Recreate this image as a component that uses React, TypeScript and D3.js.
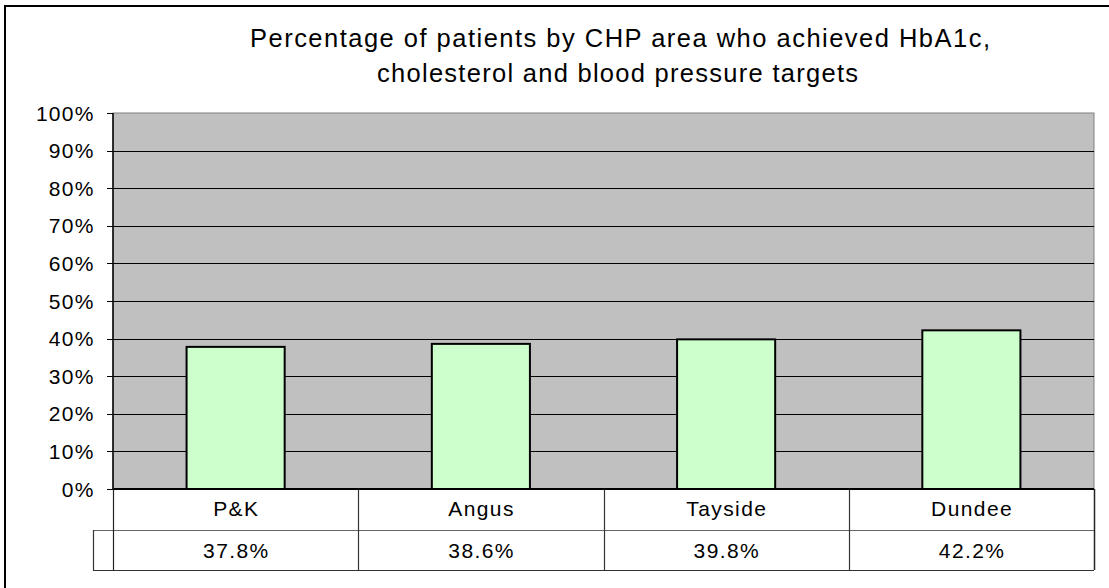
import React from "react";
import * as d3 from "d3";

const categories = ["P&K", "Angus", "Tayside", "Dundee"];
const values = [37.8, 38.6, 39.8, 42.2];
const valueLabels = ["37.8%", "38.6%", "39.8%", "42.2%"];
const yTicks = [0, 10, 20, 30, 40, 50, 60, 70, 80, 90, 100];
const titleLines = [
  "Percentage of patients by CHP area who achieved HbA1c,",
  "cholesterol and blood pressure targets",
];

const W = 1109;
const H = 588;
const plot = { left: 113, right: 1094, top: 113, bottom: 489 };
const rowH = 41;
const FONT = "'Liberation Sans', Arial, Helvetica, sans-serif";

export default function App() {
  const y = d3.scaleLinear().domain([0, 100]).range([plot.bottom, plot.top]);
  const cols = d3.scaleBand<string>().domain(categories).range([plot.left, plot.right]).padding(0);
  const bars = d3
    .scaleBand<string>()
    .domain(categories)
    .range([plot.left, plot.right])
    .paddingInner(0.6)
    .paddingOuter(0.3);

  const row1Top = plot.bottom;
  const row2Top = plot.bottom + rowH;
  const row2Bottom = row2Top + 40;
  const keyLeft = 93;

  return (
    <svg
      width={W}
      height={H}
      style={{ position: "absolute", left: 0, top: 0, fontFamily: FONT }}
    >
      <rect x={0} y={0} width={W} height={H} fill="#fff" />
      <rect x={5} y={6} width={W + 10} height={H + 10} fill="none" stroke="#000" strokeWidth={2} />

      {/* title */}
      <text fontSize={25.5} fill="#000">
        <tspan x={250} y={47} textLength={740} lengthAdjust="spacing">{titleLines[0]}</tspan>
      </text>
      <text fontSize={25.5} fill="#000">
        <tspan x={377} y={82} textLength={481} lengthAdjust="spacing">{titleLines[1]}</tspan>
      </text>

      {/* plot area */}
      <rect
        x={plot.left}
        y={plot.top}
        width={plot.right - plot.left}
        height={plot.bottom - plot.top}
        fill="#C0C0C0"
        stroke="#808080"
        strokeWidth={1}
      />
      {yTicks.filter((t) => t > 0 && t < 100).map((t) => (
        <line
          key={"g" + t}
          x1={plot.left}
          x2={plot.right}
          y1={Math.round(y(t)) + 0.5}
          y2={Math.round(y(t)) + 0.5}
          stroke="#000"
          strokeWidth={1}
        />
      ))}

      {/* bars */}
      {categories.map((c, i) => (
        <rect
          key={"b" + c}
          x={bars(c)}
          y={y(values[i])}
          width={bars.bandwidth()}
          height={plot.bottom - y(values[i])}
          fill="#CCFFCC"
          stroke="#000"
          strokeWidth={2}
        />
      ))}

      {/* y axis */}
      <line x1={plot.left} x2={plot.left} y1={plot.top} y2={plot.bottom} stroke="#000" strokeWidth={1.5} />
      {yTicks.map((t) => (
        <g key={"t" + t}>
          <line
            x1={plot.left - 6}
            x2={plot.left}
            y1={Math.round(y(t)) + 0.5}
            y2={Math.round(y(t)) + 0.5}
            stroke="#000"
          />
          <text
            x={94.5}
            y={y(t) + 7.5}
            textAnchor="end"
            fontSize={21}
            letterSpacing={1.2}
            fill="#000"
          >
            {t}%
          </text>
        </g>
      ))}

      {/* data table */}
      <rect x={plot.left} y={row1Top} width={plot.right - plot.left} height={rowH} fill="#fff" stroke="none" />
      <rect x={keyLeft} y={row2Top} width={plot.right - keyLeft} height={row2Bottom - row2Top} fill="#fff" stroke="none" />
      <line x1={keyLeft} x2={plot.right} y1={row2Top + 0.5} y2={row2Top + 0.5} stroke="#666" strokeWidth={1.2} />
      <line x1={keyLeft} x2={plot.right} y1={row2Bottom + 0.5} y2={row2Bottom + 0.5} stroke="#333" strokeWidth={1.2} />
      <line x1={keyLeft + 0.5} x2={keyLeft + 0.5} y1={row2Top} y2={row2Bottom} stroke="#333" strokeWidth={1.2} />
      <line x1={plot.left + 0.5} x2={plot.left + 0.5} y1={row1Top} y2={row2Bottom} stroke="#222" strokeWidth={1.2} />
      <line x1={plot.right + 0.5} x2={plot.right + 0.5} y1={row1Top} y2={row2Bottom} stroke="#222" strokeWidth={1.5} />
      {categories.slice(1).map((c) => (
        <line
          key={"s" + c}
          x1={Math.round(cols(c)!) + 0.5}
          x2={Math.round(cols(c)!) + 0.5}
          y1={row1Top}
          y2={row2Bottom}
          stroke="#333"
          strokeWidth={1.2}
        />
      ))}
      <line x1={plot.left} x2={plot.right} y1={plot.bottom} y2={plot.bottom} stroke="#000" strokeWidth={2} />
      {categories.map((c, i) => (
        <g key={"l" + c}>
          <text
            x={cols(c)! + cols.bandwidth() / 2 + 0.7}
            y={row1Top + 26.5}
            textAnchor="middle"
            fontSize={21}
            letterSpacing={1.4}
            fill="#000"
          >
            {c}
          </text>
          <text
            x={cols(c)! + cols.bandwidth() / 2 + 0.7}
            y={row2Top + 28}
            textAnchor="middle"
            fontSize={21}
            letterSpacing={1.4}
            fill="#000"
          >
            {valueLabels[i]}
          </text>
        </g>
      ))}
    </svg>
  );
}
